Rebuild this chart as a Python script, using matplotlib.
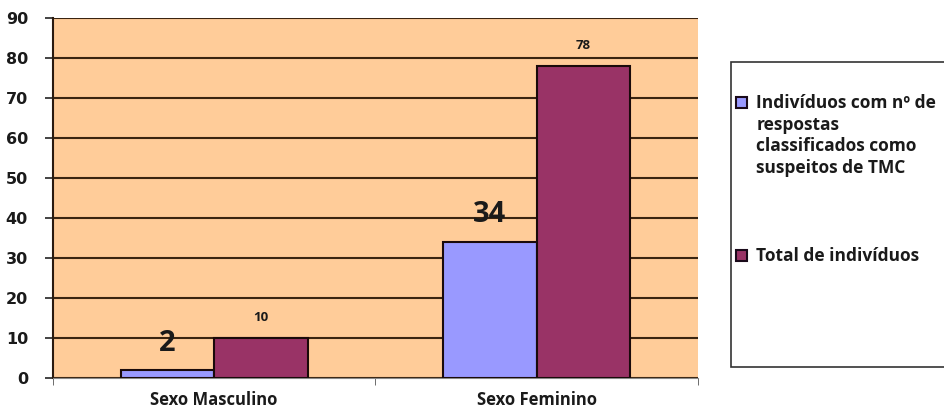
import numpy as np
import matplotlib.pyplot as plt
from matplotlib.patches import Rectangle

plt.rcParams['font.family'] = ['Open Sans', 'DejaVu Sans']
plt.rcParams['font.weight'] = 'bold'

categorias = ["Sexo Masculino", "Sexo Feminino"]
suspeitos = [2, 34]
total = [10, 78]
legenda = ["Indivíduos com nº de\nrespostas\nclassificados como\nsuspeitos de TMC",
           "Total de indivíduos"]
cores = ["#9999FF", "#993366"]

fig = plt.figure(figsize=(9.44, 4.12), dpi=100)
ax = fig.add_axes([0.0561, 0.0825, 0.683, 0.874])
ax.set_facecolor("#FFCC99")

x = np.arange(len(categorias))
w = 0.29
b1 = ax.bar(x - w / 2, suspeitos, w, color=cores[0], edgecolor="#1a0a0a",
            linewidth=1.5, zorder=3)
b2 = ax.bar(x + w / 2, total, w, color=cores[1], edgecolor="#1a0a0a",
            linewidth=1.5, zorder=3)

# rótulos: série azul em fonte grande, série roxa em fonte pequena
for r, v in zip(b1, suspeitos):
    ax.annotate(str(v), (r.get_x() + r.get_width() / 2, v), xytext=(0, 9),
                textcoords="offset points", ha="center", va="bottom",
                fontsize=21, fontweight="bold", color="#1a1a1a", zorder=4)
for r, v in zip(b2, total):
    ax.annotate(str(v), (r.get_x() + r.get_width() / 2, v), xytext=(0, 10),
                textcoords="offset points", ha="center", va="bottom",
                fontsize=9.5, fontweight="bold", color="#1a1a1a")

ax.set_ylim(0, 90)
ax.set_xlim(-0.5, 1.5)
ax.set_yticks(range(0, 91, 10))
ax.yaxis.grid(True, color="#3a2410", linewidth=1.5, zorder=0)
ax.set_axisbelow(True)
ax.set_xticks(x)
ax.set_xticklabels(categorias, fontsize=12, fontweight="bold", color="#1a1a1a")
ax.tick_params(axis="x", length=0, pad=9)
ax.set_xticks([-0.5, 0.5, 1.5], minor=True)
ax.tick_params(axis="x", which="minor", length=5, color="#555555")
ax.tick_params(axis="y", length=6, width=1.2, color="#222222", labelsize=11.5,
               labelcolor="#1a1a1a", pad=12)
for t in ax.get_yticklabels():
    t.set_fontweight("bold")
    t.set_family("DejaVu Sans")
for s in ["top", "right"]:
    ax.spines[s].set_visible(False)
ax.spines["left"].set_color("#2a1a10")
ax.spines["left"].set_linewidth(1.5)
ax.spines["bottom"].set_color("#888888")

# moldura da legenda (corta na borda direita)
fig.patches.append(Rectangle((0.774, 0.109), 0.25, 0.741, transform=fig.transFigure,
                             facecolor="white", edgecolor="#333333", linewidth=1.2))
leg_y = [1 - 103 / 412, 1 - 256 / 412]
for cor, txt, yy in zip(cores, legenda, leg_y):
    fig.patches.append(Rectangle((0.780, yy - 0.013), 0.0117, 0.0265,
                                 transform=fig.transFigure, facecolor=cor,
                                 edgecolor="#1a0a1a", linewidth=1.5))
    fig.text(0.801, yy + 0.022, txt, ha="left", va="top", fontsize=12.5,
             fontweight="bold", color="#1a1a1a", linespacing=1.27)

fig.savefig("out.png", dpi=100)
